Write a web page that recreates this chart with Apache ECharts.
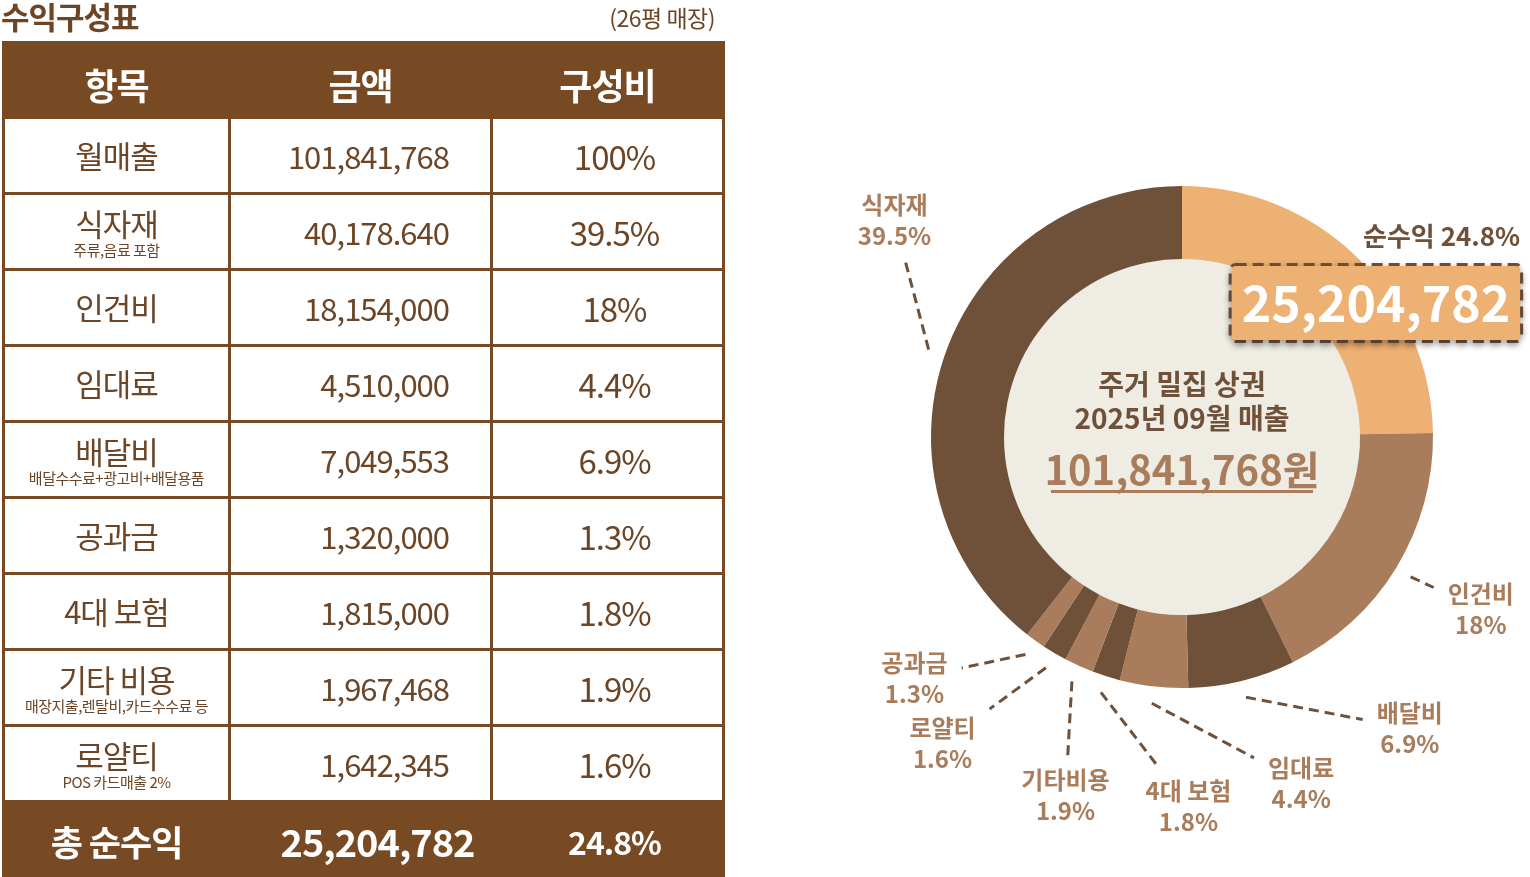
<!DOCTYPE html>
<html>
<head>
<meta charset="utf-8">
<script src="https://cdn.jsdelivr.net/npm/echarts@6/dist/echarts.min.js"></script>
<style>
	* { margin: 0; padding: 0; box-sizing: border-box; }
	html, body {
		width: 1530px;
		height: 877px;
		background: #fff;
		overflow: hidden;
		font-family: "Noto Sans CJK KR", "Noto Sans", sans-serif;
	}
	#chart {
		position: absolute;
		left: 0; top: 0;
		width: 1530px;
		height: 877px;
	}
	#title {
		position: absolute;
		left: 1px; top: -7px;
		font-size: 31px;
		font-weight: 700;
		color: #6b4526;
		letter-spacing: -1px;
	}
	#subTitle {
		position: absolute;
		right: 815px; top: 0px;
		font-size: 23px;
		color: #6b4526;
		letter-spacing: -0.5px;
	}
	#tbl {
		position: absolute;
		left: 2px; top: 41px;
		width: 720px;
		border-collapse: collapse;
		table-layout: fixed;
		z-index: 2;
	}
	#tbl td, #tbl th {
		border: 3px solid #774a23;
		color: #6b4526;
		text-align: center;
		vertical-align: middle;
		height: 76px;
		font-weight: 400;
		letter-spacing: -1px;
	}
	#tbl th {
		background: #774a23;
		color: #fff;
		font-size: 36px;
		font-weight: 700;
		height: 75px;
		padding-top: 8px;
	}
	#tbl .item { font-size: 31px; line-height: 34px; }
	#tbl .note { display: block; font-size: 15px; line-height: 17px; letter-spacing: -0.5px; }
	#tbl .amt { font-size: 31px; text-align: right; padding-right: 41px; }
	#tbl .pct { font-size: 33px; padding-left: 14px; }
	#tbl tr.total td {
		background: #774a23;
		color: #fff;
		font-weight: 700;
		height: 78px;
	}
</style>
</head>
<body>
<div id="chart"></div>
<div id="title">수익구성표</div>
<div id="subTitle">(26평 매장)</div>
<table id="tbl">
	<colgroup><col style="width:226px"><col style="width:262px"><col style="width:232px"></colgroup>
	<thead><tr id="head"></tr></thead>
	<tbody id="tbody"></tbody>
</table>
<script>
// 표 데이터
var headers = ['항목', '금액', '구성비'];
var items = ['월매출', '식자재', '인건비', '임대료', '배달비', '공과금', '4대 보험', '기타 비용', '로얄티'];
var notes = ['', '주류,음료 포함', '', '', '배달수수료+광고비+배달용품', '', '', '매장지출,렌탈비,카드수수료 등', 'POS 카드매출 2%'];
var amounts = ['101,841,768', '40,178.640', '18,154,000', '4,510,000', '7,049,553', '1,320,000', '1,815,000', '1,967,468', '1,642,345'];
var ratios = [100, 39.5, 18, 4.4, 6.9, 1.3, 1.8, 1.9, 1.6];
var totalRow = ['총 순수익', '25,204,782', 24.8];

// 도넛 데이터 (12시 방향부터 시계방향)
var pieNames = ['순수익', '인건비', '배달비', '임대료', '4대 보험', '기타비용', '로얄티', '공과금', '식자재'];
var pieValues = [24.8, 18, 6.9, 4.4, 1.8, 1.9, 1.6, 1.3, 39.5];
var centerLines = ['주거 밀집 상권', '2025년 09월 매출'];

// 라벨 배치 (각도: 12시 기준 시계방향, 거리: 중심에서 px)
var labelAngle = [50.3, 120, 142, 161, 179, 198, 218, 228, 307];
var labelDist = [252, 345, 370, 366, 369, 377, 389, 360, 360];

var LIGHT = '#a97d5b', DARK = '#6f5039', ORANGE = '#eeb174';
var sliceColors = [ORANGE, LIGHT, DARK, LIGHT, DARK, LIGHT, DARK, LIGHT, DARK];
var CX = 1182, CY = 437, R_IN = 178, R_OUT = 251;

// 표 그리기
document.getElementById('head').innerHTML = headers.map(function (h) { return '<th>' + h + '</th>'; }).join('');
var html = '';
for (var i = 0; i < items.length; i++) {
	html += '<tr><td><span class="item">' + items[i] + '</span>' +
		(notes[i] ? '<span class="note">' + notes[i] + '</span>' : '') + '</td>' +
		'<td class="amt">' + amounts[i] + '</td>' +
		'<td class="pct">' + ratios[i] + '%</td></tr>';
}
html += '<tr class="total"><td style="font-size:35px">' + totalRow[0] + '</td>' +
	'<td style="font-size:38px;padding-left:34px">' + totalRow[1] + '</td>' +
	'<td style="font-size:32px;padding-left:14px">' + totalRow[2] + '%</td></tr>';
document.getElementById('tbody').innerHTML = html;

// 조각 중심 각도
var sum = pieValues.reduce(function (a, b) { return a + b; }, 0);
var midAngle = [], acc = 0;
pieValues.forEach(function (v) {
	midAngle.push((acc + v / 2) / sum * 2 * Math.PI);
	acc += v;
});

var pieData = pieValues.map(function (v, i) {
	var d = { name: pieNames[i], value: v, itemStyle: { color: sliceColors[i] } };
	if (i === 0) {
		d.label = {
			formatter: '{t|' + pieNames[0] + ' ' + v + '%}\n{g|}\n{b|' + totalRow[1] + '}',
			rich: {
				t: { fontSize: 26, fontWeight: 'bold', color: DARK, align: 'right', lineHeight: 30 },
				g: { height: 24, lineHeight: 24 },
				b: {
					fontSize: 50, fontWeight: 'bold', color: '#fff', lineHeight: 56,
					backgroundColor: ORANGE, borderColor: DARK, borderWidth: 3, borderType: [11, 6],
					borderRadius: 4, padding: [12, 10, 12, 10],
					shadowBlur: 6, shadowColor: 'rgba(0,0,0,0.3)', shadowOffsetY: 3
				}
			}
		};
		d.labelLine = { show: false };
	}
	return d;
});

var chart = echarts.init(document.getElementById('chart'));
chart.setOption({
	animation: false,
	textStyle: { fontFamily: 'Noto Sans CJK KR' },
	series: [{
		type: 'pie',
		silent: true,
		center: [CX, CY],
		radius: [0, R_IN],
		itemStyle: { color: '#efece3' },
		label: {
			position: 'center',
			formatter: '{a|' + centerLines[0] + '}\n{a|' + centerLines[1] + '}\n{s|}\n{m|' + amounts[0] + '원}\n{v|}\n{u|}\n{e|}',
			rich: {
				a: { fontSize: 28, fontWeight: 'bold', color: DARK, lineHeight: 34 },
				s: { height: 18, lineHeight: 18 },
				m: { fontSize: 40, fontWeight: 'bold', color: LIGHT, lineHeight: 34 },
				v: { height: 3, lineHeight: 3 },
				u: { width: 262, height: 3, backgroundColor: LIGHT, lineHeight: 3 },
				e: { height: 14, lineHeight: 14 }
			}
		},
		data: [{ name: '', value: 1 }]
	}, {
		type: 'pie',
		silent: true,
		center: [CX, CY],
		radius: [R_IN, R_OUT],
		startAngle: 90,
		clockwise: true,
		avoidLabelOverlap: false,
		label: {
			show: true,
			position: 'outside',
			fontSize: 24,
			fontWeight: 'bold',
			lineHeight: 31,
			color: LIGHT,
			align: 'center',
			formatter: function (p) { return p.name + '\n' + p.value + '%'; }
		},
		labelLine: {
			show: true,
			length: 10,
			length2: 10,
			lineStyle: { color: DARK, width: 3, type: [10, 6] }
		},
		labelLayout: function (p) {
			var i = p.dataIndex;
			var a = labelAngle[i] * Math.PI / 180;
			var lx = CX + Math.sin(a) * labelDist[i];
			var ly = CY - Math.cos(a) * labelDist[i];
			var res = { x: lx, y: ly, align: 'center', verticalAlign: 'middle' };
			if (i > 0) {
				var m = midAngle[i];
				var sx = CX + Math.sin(m) * (R_OUT + 17);
				var sy = CY - Math.cos(m) * (R_OUT + 17);
				var vx = lx - sx, vy = ly - sy, len = Math.sqrt(vx * vx + vy * vy);
				var ux = vx / len, uy = vy / len;
				var hw = p.labelRect.width / 2 + 14, hh = p.labelRect.height / 2 + 8;
				var t = Math.min(hw / Math.max(Math.abs(ux), 1e-6), hh / Math.max(Math.abs(uy), 1e-6));
				var ex = lx - ux * t, ey = ly - uy * t;
				res.labelLinePoints = [[sx, sy], [(sx + ex) / 2, (sy + ey) / 2], [ex, ey]];
			}
			return res;
		},
		data: pieData
	}]
});
</script>
</body>
</html>
